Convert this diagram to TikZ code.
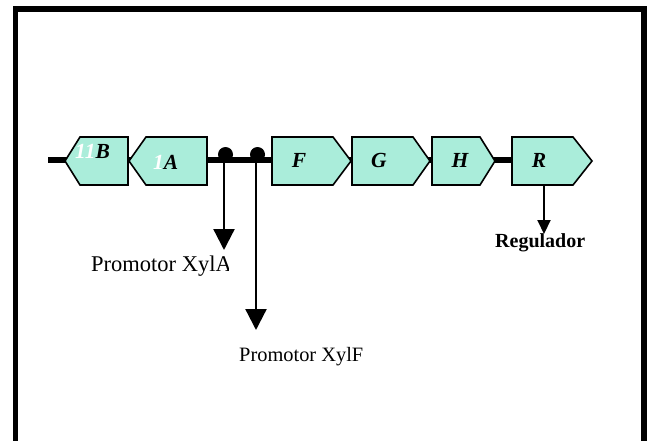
\documentclass[tikz,border=0pt]{standalone}
\usepackage{fontspec}
\setmainfont{Liberation Serif}
\usetikzlibrary{arrows.meta}
\definecolor{genefill}{RGB}{170,237,218}
\begin{document}
\begin{tikzpicture}[x=1pt,y=-1pt,
  genebox/.style={draw=black,fill=genefill,line width=1.6pt,line join=miter},
  backbone/.style={line width=6.5pt},
  promoter/.style={circle,fill=black,inner sep=0pt,minimum size=15pt},
  pointer/.style={line width=2.3pt,-{Triangle[width=21pt,length=21pt]}},
  smallpointer/.style={line width=2pt,-{Triangle[width=13pt,length=14pt]}},
  lbl/.style={inner sep=0pt,anchor=base west,font=\fontsize{20.4}{24}\selectfont},
  genename/.style={inner sep=0pt,anchor=base,font=\fontsize{21.5}{24}\selectfont\bfseries\itshape},
  frame/.style={line width=5.7pt}]
\useasboundingbox (0,0) rectangle (650,440);

% open frame
\draw[frame] (15.5,446) -- (15.5,9) -- (643.7,9) -- (643.7,446);

% DNA backbone
\draw[backbone] (48,160) -- (512,160);

% genes read leftwards
\draw[genebox] (128,137) -- (80,137) -- (65,161) -- (80,185) -- (128,185) -- cycle;
\draw[genebox] (207,137) -- (146,137) -- (129,161) -- (146,185) -- (207,185) -- cycle;
% genes read rightwards
\draw[genebox] (272,137) -- (333,137) -- (351,161) -- (333,185) -- (272,185) -- cycle;
\draw[genebox] (352,137) -- (413,137) -- (430,161) -- (413,185) -- (352,185) -- cycle;
\draw[genebox] (432,137) -- (480,137) -- (495,161) -- (480,185) -- (432,185) -- cycle;
\draw[genebox] (512,137) -- (573,137) -- (592,161) -- (573,185) -- (512,185) -- cycle;

% gene names
\node[genename,anchor=base west] (gB) at (75,158) {\textcolor{white}{11}B};
\node[genename,anchor=base west] (gA) at (153,169) {\textcolor{white}{1}A};
\node[genename] (gF) at (299,167) {F};
\node[genename] (gG) at (379,167) {G};
\node[genename] (gH) at (460,167) {H};
\node[genename] (gR) at (539,167) {R};

% promoters
\node[promoter] (pA) at (225.5,154.5) {};
\node[promoter] (pF) at (257.5,154.5) {};
\coordinate (pAfoot) at (224,160);
\coordinate (pFfoot) at (256,160);
\coordinate (pAend) at (224,250);
\coordinate (pFend) at (256,330);
\draw[pointer] (pAfoot) -- (pAend);
\draw[pointer] (pFfoot) -- (pFend);

% regulator output
\coordinate (Rfoot) at (544,185);
\coordinate (Rend) at (544,234);
\draw[smallpointer] (Rfoot) -- (Rend);

% labels
\begin{scope}
  \clip (0,0) rectangle (228,440);
  \node[lbl,font=\fontsize{22.5}{26}\selectfont] (labA) at (91,271.7) {Promotor XylA};
\end{scope}
\node[lbl] (labF) at (239,361) {Promotor XylF};
\node[lbl,font=\fontsize{20}{24}\selectfont\bfseries] (labR) at (495,247) {Regulador};
\end{tikzpicture}
\end{document}
